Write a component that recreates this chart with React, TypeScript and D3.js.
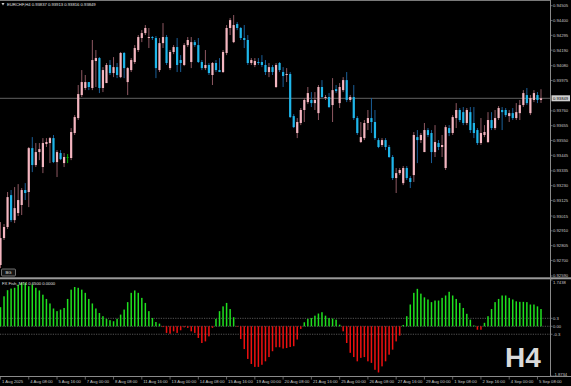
import React, { useEffect } from 'react'
import * as d3 from 'd3'

// EURCHF H4, 1 Aug 2025 00:00 .. 5 Sep 2025 12:00 (154 bars)
const symbol = 'EURCHF,H4'

const openP = [
  0.92668, 0.92859, 0.92937, 0.93163, 0.92986, 0.93036, 0.93093, 0.93199, 0.93185, 0.93496,
  0.93376, 0.93468, 0.93362, 0.93525, 0.93532, 0.93567, 0.93397, 0.93461, 0.93390, 0.93433,
  0.93426, 0.93603, 0.93709, 0.93872, 0.93922, 0.93964, 0.93922, 0.94113, 0.94134, 0.93922,
  0.93957, 0.94085, 0.94028, 0.94070, 0.93999, 0.94170, 0.93964, 0.94049, 0.94106, 0.94191,
  0.94276, 0.94311, 0.94276, 0.94283, 0.94276, 0.94049, 0.94240, 0.94283, 0.94063, 0.94177,
  0.94212, 0.94120, 0.94085, 0.94226, 0.94106, 0.94247, 0.94226, 0.94106, 0.94063, 0.94085,
  0.94014, 0.94099, 0.94049, 0.94035, 0.94170, 0.94347, 0.94247, 0.94375, 0.94347, 0.94276,
  0.94262, 0.94099, 0.94085, 0.94106, 0.94106, 0.94085, 0.94035, 0.94070, 0.93929, 0.94099,
  0.94035, 0.94014, 0.94021, 0.93723, 0.93603, 0.93674, 0.93766, 0.93822, 0.93837, 0.93815,
  0.93744, 0.93929, 0.93851, 0.93858, 0.93801, 0.93914, 0.93815, 0.93907, 0.93978, 0.93837,
  0.93858, 0.93709, 0.93539, 0.93567, 0.93674, 0.93709, 0.93681, 0.93553, 0.93518, 0.93553,
  0.93504, 0.93433, 0.93284, 0.93319, 0.93248, 0.93355, 0.93284, 0.93305, 0.93574, 0.93553,
  0.93468, 0.93624, 0.93603, 0.93468, 0.93532, 0.93504, 0.93355, 0.93638, 0.93603, 0.93709,
  0.93766, 0.93751, 0.93674, 0.93751, 0.93674, 0.93624, 0.93532, 0.93589, 0.93539, 0.93695,
  0.93638, 0.93709, 0.93766, 0.93766, 0.93723, 0.93744, 0.93709, 0.93744, 0.93801, 0.93872,
  0.93744, 0.93837, 0.93872, 0.93837,
]

const highP = [
  0.92972, 0.92958, 0.93185, 0.93199, 0.93220, 0.93241, 0.93213, 0.93248, 0.93504, 0.93574,
  0.93532, 0.93532, 0.93567, 0.93567, 0.93574, 0.93589, 0.93482, 0.93482, 0.93461, 0.93454,
  0.93638, 0.93730, 0.93943, 0.94049, 0.94014, 0.93964, 0.94262, 0.94191, 0.94141, 0.94070,
  0.94099, 0.94120, 0.94141, 0.94099, 0.94177, 0.94177, 0.94070, 0.94134, 0.94226, 0.94297,
  0.94332, 0.94368, 0.94347, 0.94290, 0.94290, 0.94276, 0.94382, 0.94297, 0.94191, 0.94226,
  0.94276, 0.94155, 0.94240, 0.94283, 0.94283, 0.94262, 0.94276, 0.94120, 0.94191, 0.94099,
  0.94106, 0.94120, 0.94134, 0.94191, 0.94368, 0.94418, 0.94439, 0.94389, 0.94354, 0.94368,
  0.94297, 0.94134, 0.94134, 0.94134, 0.94155, 0.94120, 0.94099, 0.94085, 0.94099, 0.94106,
  0.94070, 0.94063, 0.94035, 0.93737, 0.93709, 0.93780, 0.93851, 0.93929, 0.93893, 0.93893,
  0.93943, 0.93978, 0.93872, 0.93886, 0.93992, 0.93943, 0.93957, 0.93999, 0.94035, 0.93872,
  0.93943, 0.93723, 0.93681, 0.93695, 0.93766, 0.93851, 0.93766, 0.93567, 0.93567, 0.93567,
  0.93518, 0.93447, 0.93355, 0.93355, 0.93369, 0.93369, 0.93298, 0.93610, 0.93624, 0.93603,
  0.93674, 0.93638, 0.93624, 0.93659, 0.93553, 0.93589, 0.93659, 0.93659, 0.93730, 0.93815,
  0.93780, 0.93787, 0.93780, 0.93787, 0.93787, 0.93638, 0.93709, 0.93659, 0.93751, 0.93751,
  0.93766, 0.93794, 0.93787, 0.93780, 0.93766, 0.93780, 0.93815, 0.93837, 0.93907, 0.93922,
  0.93872, 0.93907, 0.93893, 0.93913,
]

const lowP = [
  0.92646, 0.92845, 0.92923, 0.92972, 0.92965, 0.93015, 0.93022, 0.93128, 0.93078, 0.93326,
  0.93362, 0.93411, 0.93319, 0.93504, 0.93390, 0.93390, 0.93291, 0.93411, 0.93362, 0.93390,
  0.93411, 0.93589, 0.93695, 0.93858, 0.93907, 0.93907, 0.93907, 0.93929, 0.93886, 0.93893,
  0.93957, 0.94014, 0.93999, 0.93992, 0.93992, 0.93992, 0.93872, 0.94035, 0.94092, 0.94177,
  0.94247, 0.94297, 0.94205, 0.94262, 0.93992, 0.94035, 0.94205, 0.94085, 0.94049, 0.94162,
  0.94035, 0.94035, 0.94077, 0.94212, 0.94063, 0.94212, 0.94099, 0.94049, 0.94049, 0.94014,
  0.93943, 0.94035, 0.94035, 0.94028, 0.94155, 0.94297, 0.94240, 0.94332, 0.94262, 0.94205,
  0.94085, 0.94085, 0.94070, 0.94085, 0.94070, 0.94014, 0.93999, 0.94014, 0.93922, 0.94035,
  0.93929, 0.93964, 0.93709, 0.93638, 0.93567, 0.93659, 0.93681, 0.93808, 0.93787, 0.93766,
  0.93695, 0.93851, 0.93837, 0.93780, 0.93681, 0.93886, 0.93780, 0.93893, 0.93822, 0.93822,
  0.93695, 0.93589, 0.93532, 0.93553, 0.93624, 0.93603, 0.93553, 0.93496, 0.93504, 0.93482,
  0.93426, 0.93270, 0.93178, 0.93305, 0.93234, 0.93270, 0.93213, 0.93256, 0.93390, 0.93532,
  0.93468, 0.93574, 0.93390, 0.93433, 0.93482, 0.93433, 0.93341, 0.93581, 0.93589, 0.93638,
  0.93681, 0.93659, 0.93659, 0.93603, 0.93567, 0.93518, 0.93518, 0.93574, 0.93532, 0.93624,
  0.93624, 0.93695, 0.93624, 0.93716, 0.93681, 0.93695, 0.93695, 0.93695, 0.93787, 0.93801,
  0.93730, 0.93822, 0.93815, 0.93816,
]

const closeP = [
  0.92859, 0.92937, 0.93149, 0.92986, 0.93071, 0.93128, 0.93199, 0.93178, 0.93496, 0.93376,
  0.93468, 0.93489, 0.93532, 0.93539, 0.93567, 0.93397, 0.93468, 0.93418, 0.93433, 0.93433,
  0.93610, 0.93716, 0.93879, 0.93964, 0.93964, 0.93929, 0.94120, 0.94134, 0.93922, 0.94049,
  0.94085, 0.94028, 0.94070, 0.94014, 0.94170, 0.94063, 0.94063, 0.94120, 0.94205, 0.94283,
  0.94311, 0.94347, 0.94283, 0.94276, 0.94063, 0.94240, 0.94283, 0.94099, 0.94177, 0.94212,
  0.94085, 0.94099, 0.94226, 0.94262, 0.94247, 0.94226, 0.94106, 0.94063, 0.94085, 0.94028,
  0.94099, 0.94049, 0.94035, 0.94177, 0.94347, 0.94403, 0.94368, 0.94347, 0.94276, 0.94262,
  0.94099, 0.94120, 0.94113, 0.94099, 0.94085, 0.94035, 0.94070, 0.94035, 0.94085, 0.94049,
  0.94007, 0.94021, 0.93716, 0.93645, 0.93681, 0.93766, 0.93837, 0.93886, 0.93815, 0.93837,
  0.93929, 0.93858, 0.93858, 0.93787, 0.93907, 0.93900, 0.93929, 0.93978, 0.93837, 0.93858,
  0.93709, 0.93603, 0.93574, 0.93674, 0.93709, 0.93681, 0.93567, 0.93504, 0.93553, 0.93504,
  0.93433, 0.93284, 0.93319, 0.93341, 0.93355, 0.93284, 0.93256, 0.93589, 0.93553, 0.93589,
  0.93624, 0.93589, 0.93468, 0.93539, 0.93504, 0.93518, 0.93645, 0.93603, 0.93716, 0.93766,
  0.93695, 0.93674, 0.93766, 0.93624, 0.93603, 0.93532, 0.93603, 0.93610, 0.93695, 0.93638,
  0.93709, 0.93780, 0.93751, 0.93730, 0.93744, 0.93709, 0.93751, 0.93801, 0.93886, 0.93815,
  0.93851, 0.93886, 0.93837, 0.93849,
]

// FX Fish oscillator histogram
const fish = [
  0.72, 1.13, 1.36, 1.42, 1.45, 1.57, 1.64, 1.64, 1.51, 1.57,
  1.45, 1.35, 1.19, 1.03, 0.86, 0.67, 0.57, 0.63, 0.69, 1.03,
  1.38, 1.48, 1.45, 1.38, 1.26, 1.03, 0.86, 0.67, 0.50, 0.38,
  0.28, 0.23, 0.19, 0.28, 0.44, 0.63, 0.91, 1.26, 1.35, 1.26,
  1.07, 0.88, 0.57, 0.31, 0.16, 0.10, -0.03, -0.25, -0.28, -0.19,
  -0.25, -0.15, -0.04, -0.06, -0.19, -0.25, -0.44, -0.63, -0.57, -0.38,
  -0.06, 0.28, 0.57, 0.75, 0.88, 0.65, 0.34, -0.02, -0.48, -0.86,
  -1.23, -1.42, -1.53, -1.53, -1.45, -1.32, -1.16, -0.94, -0.79, -0.79,
  -0.84, -0.82, -0.78, -0.75, -0.50, -0.10, 0.15, 0.28, 0.31, 0.40,
  0.48, 0.53, 0.40, 0.31, 0.29, 0.25, 0.06, -0.19, -0.63, -1.00,
  -1.16, -1.32, -1.19, -1.16, -1.32, -1.38, -1.64, -1.74, -1.51, -1.32,
  -1.07, -0.88, -0.57, -0.35, 0.05, 0.38, 0.82, 1.26, 1.41, 1.23,
  1.09, 1.01, 0.91, 0.97, 0.97, 1.07, 1.16, 1.30, 1.16, 1.03,
  0.88, 0.69, 0.47, 0.25, 0.03, -0.13, -0.13, 0.13, 0.38, 0.65,
  0.91, 1.03, 1.16, 1.16, 1.07, 1.01, 0.94, 0.92, 0.92, 0.91,
  0.82, 0.82, 0.75, 0.65,
]
const fishName = 'FX Fish_MT4'
const fishSignal = 0.0

// one label every 8 bars (32 hours)
const timeLabels = [
  '1 Aug 2025', '4 Aug 08:00', '5 Aug 16:00', '7 Aug 00:00', '8 Aug 08:00',
  '11 Aug 16:00', '13 Aug 00:00', '14 Aug 08:00', '15 Aug 16:00', '19 Aug 00:00',
  '20 Aug 08:00', '21 Aug 16:00', '25 Aug 00:00', '26 Aug 08:00', '27 Aug 16:00',
  '29 Aug 00:00', '1 Sep 08:00', '2 Sep 16:00', '4 Sep 00:00', '5 Sep 08:00',
]
const labelEvery = 8

const priceTicks = [
  0.94505, 0.944, 0.94295, 0.9419, 0.9408, 0.93975, 0.9376, 0.93655, 0.9355,
  0.93445, 0.93335, 0.9323, 0.93125, 0.93015, 0.9291, 0.92805, 0.927, 0.9259,
]
const priceView = [0.925758, 0.945454]

const fishView = [-1.8734, 1.7438]
const fishLevels = [0.3, 0, -0.3]
const fishTickLabels = [
  { v: 1.7438, t: '1.7438' },
  { v: 0.3, t: '0.3' },
  { v: 0, t: '0.00' },
  { v: -0.3, t: '-0.3' },
  { v: -1.8734, t: '-1.8734' },
]

const W = 571
const H = 386
const plotR = 550
const mainBottom = 278
const indTop = 280
const indBottom = 376

const font = '"Liberation Sans", Arial, sans-serif'
const txt = '#c8c8c8'

const bullBody = '#f4b6c0'
const bearBody = '#1fb6ea'
const bullWick = '#8e5862'
const bearWick = '#1a5f98'
const dojiCol = '#00b400'

export default function App() {
  useEffect(() => {
    document.body.style.margin = '0'
    document.body.style.background = '#000'
  }, [])

  const n = closeP.length
  const x = d3.scaleLinear().domain([0, n - 1]).range([0.5, 541])
  const y = d3.scaleLinear().domain(priceView).range([mainBottom, 0])
  const fy = d3.scaleLinear().domain(fishView).range([indBottom, indTop])

  const last = n - 1
  const lastY = y(closeP[last])
  const header = `${symbol} ${openP[last].toFixed(5)} ${highP[last].toFixed(5)} ${lowP[last].toFixed(5)} ${closeP[last].toFixed(5)}`

  return (
    <svg width={W} height={H} style={{ position: 'fixed', left: 0, top: 0, display: 'block' }}>
      <rect width={W} height={H} fill="#000" />

      {/* frames */}
      <line x1={0} x2={plotR} y1={0.5} y2={0.5} stroke="#7a7a7a" />
      <rect x={0} y={277.3} width={W} height={2} fill="#9a9a9a" />
      <line x1={plotR + 0.5} x2={plotR + 0.5} y1={0} y2={indBottom + 0.5} stroke="#8a8a8a" />
      <line x1={0} x2={W} y1={indBottom + 0.5} y2={indBottom + 0.5} stroke="#8a8a8a" />

      {/* current price line */}
      <line x1={0} x2={plotR} y1={lastY} y2={lastY} stroke="#4e4e4e" strokeWidth={1.3} />

      {/* candles */}
      {closeP.map((c, i) => {
        const o = openP[i]
        const cx = x(i)
        const up = c > o
        const doji = c === o
        const wick = doji ? dojiCol : up ? bullWick : bearWick
        const body = doji ? dojiCol : up ? bullBody : bearBody
        const top = y(Math.max(o, c))
        const bot = y(Math.min(o, c))
        return (
          <g key={i}>
            <line x1={cx} x2={cx} y1={y(highP[i])} y2={y(lowP[i])} stroke={wick} strokeWidth={1} />
            <rect x={cx - 1.1} y={top} width={2.2} height={Math.max(0.9, bot - top)} fill={body} />
          </g>
        )
      })}

      {/* header */}
      <path d="M1.5,3 L4.5,3 L3,5.5 Z" fill="#d0d0d0" />
      <text x={7} y={5.8} fontSize={4.2} fill="#e0e0e0" fontFamily={font}>{header}</text>

      {/* BG button */}
      <rect x={1.5} y={269} width={14} height={7} rx={1} fill="#141414" stroke="#8c8c8c" strokeWidth={0.8} />
      <text x={8.5} y={274} fontSize={4.2} fill="#e0e0e0" fontFamily={font} textAnchor="middle">BG</text>

      {/* price axis */}
      {priceTicks.map((p) => (
        <g key={p}>
          <line x1={plotR} x2={plotR + 2.5} y1={y(p)} y2={y(p)} stroke="#8a8a8a" strokeWidth={0.7} />
          <text x={553} y={y(p) + 1.5} fontSize={4.2} fill={txt} fontFamily={font}>{p.toFixed(5)}</text>
        </g>
      ))}
      <rect x={551.5} y={lastY - 3} width={18.5} height={6} fill="#cfcfcf" />
      <text x={553} y={lastY + 1.5} fontSize={4.2} fill="#000" fontFamily={font}>{closeP[last].toFixed(5)}</text>

      {/* indicator */}
      {fishLevels.map((lv) => (
        <line key={lv} x1={0} x2={plotR} y1={fy(lv)} y2={fy(lv)} stroke="#7a7a7a" strokeWidth={0.7} strokeDasharray="1.2 1.2" />
      ))}
      {fish.map((v, i) => (
        <rect
          key={i}
          x={x(i) - 0.75}
          y={Math.min(fy(v), fy(0))}
          width={1.5}
          height={Math.abs(fy(v) - fy(0))}
          fill={v >= 0 ? '#1fe01f' : '#ee1010'}
        />
      ))}
      <text x={2} y={284.5} fontSize={4.2} fill="#e0e0e0" fontFamily={font}>
        {`${fishName} ${fish[last].toFixed(4)} ${fishSignal.toFixed(4)}`}
      </text>
      {fishTickLabels.map((d, k) => {
        const yy = fy(d.v)
        const dy = k === 0 ? 3.5 : k === fishTickLabels.length - 1 ? -0.3 : 1.5
        return (
          <g key={d.t}>
            <line x1={plotR} x2={plotR + 2.5} y1={yy} y2={yy} stroke="#8a8a8a" strokeWidth={0.7} />
            <text x={553} y={yy + dy} fontSize={4.2} fill={txt} fontFamily={font}>{d.t}</text>
          </g>
        )
      })}

      {/* watermark */}
      <text x={505} y={366.7} fontSize={28} fontWeight="bold" fill="#dadada" fontFamily={font}>H4</text>

      {/* time axis */}
      {timeLabels.map((t, k) => {
        const tx = x(k * labelEvery)
        return (
          <g key={t}>
            <line x1={tx} x2={tx} y1={indBottom + 0.5} y2={indBottom + 3.5} stroke="#8a8a8a" strokeWidth={0.7} />
            <text x={tx + 1.5} y={382.6} fontSize={4.2} fill={txt} fontFamily={font}>{t}</text>
          </g>
        )
      })}
    </svg>
  )
}
